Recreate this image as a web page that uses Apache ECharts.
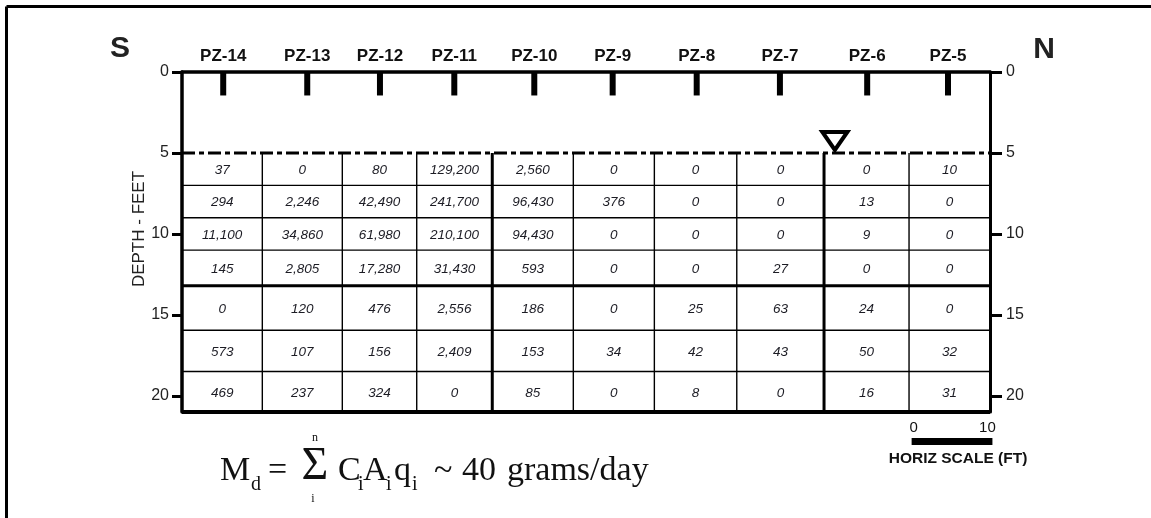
<!DOCTYPE html>
<html><head><meta charset="utf-8">
<script src="https://cdn.jsdelivr.net/npm/echarts@6/dist/echarts.min.js"></script>
<style>html,body{margin:0;padding:0;background:#fff}#c{width:1151px;height:518px}</style>
</head><body><div id="c"></div>
<script>
// ---------- DATA ----------
const wells = ['PZ-14','PZ-13','PZ-12','PZ-11','PZ-10','PZ-9','PZ-8','PZ-7','PZ-6','PZ-5'];
const wellX = [5.1, 15.5, 24.5, 33.7, 43.6, 53.3, 63.7, 74.0, 84.8, 94.8];      // ft along section
const colEdges = [0, 9.94, 19.84, 29.05, 38.4, 48.43, 58.46, 68.66, 79.46, 89.98, 100]; // ft
const rowEdges = [5, 7, 9, 11, 13.2, 15.95, 18.5, 21];                             // depth ft
const depthTicks = [0, 5, 10, 15, 20];
const pz14 = [37, 294, 11100, 145, 0, 573, 469];
const pz13 = [0, 2246, 34860, 2805, 120, 107, 237];
const pz12 = [80, 42490, 61980, 17280, 476, 156, 324];
const pz11 = [129200, 241700, 210100, 31430, 2556, 2409, 0];
const pz10 = [2560, 96430, 94430, 593, 186, 153, 85];
const pz9  = [0, 376, 0, 0, 0, 34, 0];
const pz8  = [0, 0, 0, 0, 25, 42, 8];
const pz7  = [0, 0, 0, 27, 63, 43, 0];
const pz6  = [0, 13, 9, 0, 24, 50, 16];
const pz5  = [10, 0, 0, 0, 0, 32, 31];
const waterTable = [80.8, 5];       // ft, depth
const scaleLabels = ['0', '10'];
const scaleLengthFt = 10;

// ---------- LAYOUT / STYLE ----------
const SANS = 'Liberation Sans, Arial, sans-serif';
const SERIF = 'Liberation Serif, Times New Roman, serif';
const thickCols = [4, 8];
const thickRows = [4];
const wellBarDepth = 1.45;
const scaleStartFt = 90.3;

const columns = [pz14, pz13, pz12, pz11, pz10, pz9, pz8, pz7, pz6, pz5];
const cellData = [];
columns.forEach((col, c) => col.forEach((v, r) => cellData.push([c, r, v])));
const lineData = [];
rowEdges.forEach((_, i) => lineData.push([0, i]));
colEdges.forEach((_, i) => { if (i > 0 && i < colEdges.length - 1) lineData.push([1, i]); });

const fmt = v => v.toLocaleString('en-US');
const chart = echarts.init(document.getElementById('c'), null, {renderer: 'canvas'});

function cellItem(params, api) {
  const c = api.value(0), r = api.value(1), v = api.value(2);
  const p0 = api.coord([colEdges[c], rowEdges[r]]);
  const p1 = api.coord([colEdges[c + 1], rowEdges[r + 1]]);
  return {type: 'text', style: {text: fmt(v), x: (p0[0] + p1[0]) / 2, y: (p0[1] + p1[1]) / 2 + 1,
    align: 'center', verticalAlign: 'middle', font: 'italic 13.5px ' + SANS, fill: '#1c1c24'}};
}
function lineItem(params, api) {
  const kind = api.value(0), i = api.value(1);
  let a, b, w = 1.4, dash = null;
  if (kind === 0) {
    a = api.coord([0, rowEdges[i]]); b = api.coord([100, rowEdges[i]]);
    if (i === 0) { w = 3; dash = [13, 4, 5, 4]; }
    else if (i === rowEdges.length - 1) w = 4;
    else if (thickRows.includes(i)) w = 3;
  } else {
    a = api.coord([colEdges[i], rowEdges[0]]); b = api.coord([colEdges[i], rowEdges[rowEdges.length - 1]]);
    if (thickCols.includes(i)) w = 3;
  }
  return {type: 'line', shape: {x1: a[0], y1: a[1], x2: b[0], y2: b[1]},
    style: {stroke: '#000', lineWidth: w, lineDash: dash}};
}
function wellItem(params, api) {
  const x = api.value(0), idx = api.value(1);
  const p0 = api.coord([x, 0]), p1 = api.coord([x, wellBarDepth]);
  return {type: 'group', children: [
    {type: 'rect', shape: {x: p0[0] - 3, y: p0[1], width: 6, height: p1[1] - p0[1]}, style: {fill: '#000'}},
    {type: 'text', style: {text: wells[idx], x: p0[0], y: p0[1] - 16, align: 'center', verticalAlign: 'middle',
      font: 'bold 17px ' + SANS, fill: '#111'}}
  ]};
}
function waterItem(params, api) {
  const p = api.coord([api.value(0), api.value(1)]);
  return {type: 'polygon', shape: {points: [[p[0] - 12.5, p[1] - 21], [p[0] + 12.5, p[1] - 21], [p[0], p[1] - 3]]},
    style: {fill: '#fff', stroke: '#000', lineWidth: 4, lineJoin: 'miter'}};
}
function scaleItem(params, api) {
  const a = api.coord([api.value(0), 0])[0], b = api.coord([api.value(0) + scaleLengthFt, 0])[0];
  return {type: 'group', children: [
    {type: 'rect', shape: {x: a, y: 438, width: b - a, height: 7}, style: {fill: '#000'}},
    {type: 'text', style: {text: scaleLabels[0], x: a + 2, y: 428, align: 'center', verticalAlign: 'middle', font: '15px ' + SANS, fill: '#111'}},
    {type: 'text', style: {text: scaleLabels[1], x: b - 5, y: 428, align: 'center', verticalAlign: 'middle', font: '15px ' + SANS, fill: '#111'}},
    {type: 'text', style: {text: 'HORIZ SCALE (FT)', x: (a + b) / 2 + 6, y: 459, align: 'center', verticalAlign: 'middle',
      font: 'bold 15.5px Liberation Sans Narrow, Arial Narrow, ' + SANS, fill: '#111'}}
  ]};
}

// formula pieces: [text, left x, baseline y, font size]
function ftxt(text, x, base, size, align) {
  return {type: 'text', x: 0, y: 0, style: {text, x, y: base - 0.34 * size, align: align || 'left',
    verticalAlign: 'middle', font: size + 'px ' + SERIF, fill: '#111'}};
}
const formula = [
  ftxt('M', 220, 483, 34), ftxt('d', 251, 492, 20), ftxt('=', 268, 483, 34),
  ftxt('Σ', 315, 483, 46, 'center'), ftxt('n', 315, 442, 12, 'center'), ftxt('i', 313, 503, 12, 'center'),
  ftxt('C', 338, 483, 34), ftxt('i', 358, 492, 20), ftxt('A', 363, 483, 34), ftxt('i', 386, 492, 20),
  ftxt('q', 394, 483, 34), ftxt('i', 412, 492, 20), ftxt('~', 434, 483, 34), ftxt('40', 462, 483, 34),
  ftxt('grams/day', 507, 483, 34)
];

const yAxisBase = {
  type: 'value', min: 0, max: 21, inverse: true, splitLine: {show: false},
  axisLine: {show: true, lineStyle: {color: '#000', width: 3.5}},
  axisTick: {show: true, customValues: depthTicks, length: 10, lineStyle: {color: '#000', width: 3}},
  axisLabel: {customValues: depthTicks, fontSize: 16, color: '#222', fontFamily: SANS,
    formatter: v => (v % 5 === 0 ? String(v) : '')}
};

chart.setOption({
  animation: false,
  backgroundColor: '#fff',
  grid: {left: 182, right: 161, top: 72, bottom: 106},
  xAxis: {type: 'value', min: 0, max: 100, position: 'top', splitLine: {show: false},
    axisLine: {show: true, onZero: false, lineStyle: {color: '#000', width: 3.5}},
    axisTick: {show: false}, axisLabel: {show: false}},
  yAxis: [
    Object.assign({}, yAxisBase, {position: 'left', axisLabel: Object.assign({}, yAxisBase.axisLabel, {margin: 13})}),
    Object.assign({}, yAxisBase, {position: 'right', axisLine: {show: true, lineStyle: {color: '#000', width: 3}},
      axisTick: Object.assign({}, yAxisBase.axisTick, {length: 12}),
      axisLabel: Object.assign({}, yAxisBase.axisLabel, {margin: 16})})
  ],
  graphic: [
    {type: 'line', shape: {x1: 6.5, y1: 6.5, x2: 1151, y2: 6.5}, style: {stroke: '#000', lineWidth: 3}},
    {type: 'line', shape: {x1: 6.5, y1: 6.5, x2: 6.5, y2: 518}, style: {stroke: '#000', lineWidth: 3}},
    {type: 'text', style: {text: 'S', x: 120, y: 49, align: 'center', verticalAlign: 'middle', font: 'bold 30px ' + SANS, fill: '#222'}},
    {type: 'text', style: {text: 'N', x: 1044, y: 50, align: 'center', verticalAlign: 'middle', font: 'bold 30px ' + SANS, fill: '#222'}},
    {type: 'text', rotation: Math.PI / 2, x: 139, y: 229, style: {text: 'DEPTH - FEET', x: 0, y: 0, align: 'center',
      verticalAlign: 'middle', font: '17px ' + SANS, fill: '#222'}}
  ].concat(formula),
  series: [
    {type: 'custom', name: 'grid', renderItem: lineItem, data: lineData, z: 3},
    {type: 'custom', name: 'values', renderItem: cellItem, data: cellData, z: 4},
    {type: 'custom', name: 'wells', renderItem: wellItem, data: wellX.map((x, i) => [x, i]), z: 4},
    {type: 'custom', name: 'water', renderItem: waterItem, data: [waterTable], z: 5},
    {type: 'custom', name: 'scale', renderItem: scaleItem, data: [[scaleStartFt, 0]], z: 5}
  ]
});
</script></body></html>
